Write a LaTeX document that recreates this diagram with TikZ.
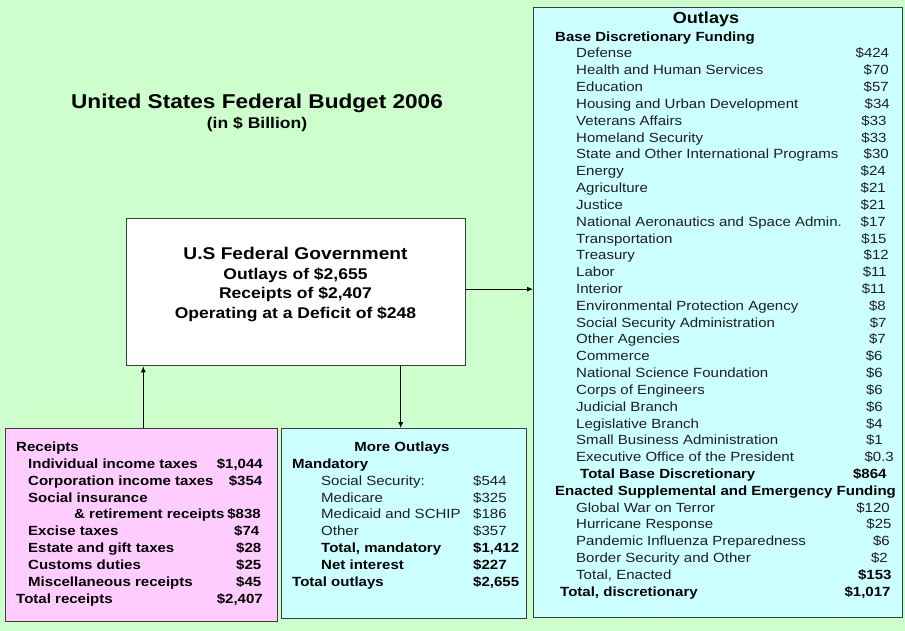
\documentclass[tikz,border=0pt]{standalone}
\usepackage{fontspec}
\setmainfont{Liberation Sans}[FakeStretch=1.13]
\usetikzlibrary{arrows.meta,calc}
\definecolor{bgc}{RGB}{204,255,204}
\definecolor{pinkc}{RGB}{255,204,255}
\definecolor{cyanc}{RGB}{204,255,255}
\definecolor{bordc}{RGB}{60,60,60}
\definecolor{txt}{RGB}{30,30,30}
\begin{document}
\begin{tikzpicture}[x=1pt,y=-1pt,
  box/.style={draw=bordc,line width=1.3pt,rectangle,inner sep=0pt,anchor=north west},
  reg/.style={font=\fontsize{13.3}{15}\selectfont,text=txt,inner sep=0pt},
  bld/.style={font=\fontsize{13.3}{15}\selectfont\bfseries,inner sep=0pt},
  arr/.style={draw=black,line width=0.8pt,-{Latex[length=6pt,width=5pt]}}]
\fill[bgc] (0,0) rectangle (905,631);
\useasboundingbox (0,0) rectangle (905,631);
% title
\node[font=\fontsize{20}{22}\selectfont\bfseries,inner sep=0pt,anchor=base] (title) at (257,109) {United States Federal Budget 2006};
\node[font=\fontsize{15.5}{17}\selectfont\bfseries,inner sep=0pt,anchor=base] (sub) at (257,129) {(in \$ Billion)};
% boxes
\node[box,fill=white,minimum width=339pt,minimum height=147pt] (gov) at (126,218) {};
\node[box,fill=pinkc,minimum width=272pt,minimum height=193pt] (rec) at (5,428) {};
\node[box,fill=cyanc,minimum width=245pt,minimum height=190pt] (more) at (281,428) {};
\node[box,fill=cyanc,minimum width=369pt,minimum height=610pt] (out) at (533,7) {};
% government text
\node[font=\fontsize{17}{19}\selectfont\bfseries,inner sep=0pt,anchor=base] (g1) at (295.5,259) {U.S Federal Government};
\node[font=\fontsize{15.5}{17}\selectfont\bfseries,inner sep=0pt,anchor=base] (g2) at (295.5,279.5) {Outlays of \$2,655};
\node[font=\fontsize{15.5}{17}\selectfont\bfseries,inner sep=0pt,anchor=base] (g3) at (295.5,298.5) {Receipts of \$2,407};
\node[font=\fontsize{15.5}{17}\selectfont\bfseries,inner sep=0pt,anchor=base] (g4) at (295.5,318) {Operating at a Deficit of \$248};
% connectors
\draw[arr] (rec.north west) ++(138.3,0) coordinate (a1) -- (a1 |- gov.south);
\draw[arr] (gov.south west) ++(274.7,0) coordinate (a2) -- (a2 |- more.north);
\draw[arr] (gov.east) ++(0,-3) coordinate (a3) -- (a3 -| out.west);
% receipts
\node[bld,anchor=base west] (r0) at (16,451.5) {Receipts};
\foreach \x/\t/\v/\r [count=\k] in {28/{Individual income taxes}/{1,044}/263,
  28/{Corporation income taxes}/{354}/262.5,
  28/{Social insurance}/{}/262,
  74/{\& retirement receipts}/{838}/261,
  28/{Excise taxes}/{74}/259.5,
  28/{Estate and gift taxes}/{28}/261.5,
  28/{Customs duties}/{25}/261.5,
  28/{Miscellaneous receipts}/{45}/261.5}{
  \node[bld,anchor=base west] (ri\k) at (\x,{451.5+16.85*\k}) {\t};
  \ifx\v\empty\else
  \node[bld,anchor=base east] (rv\k) at (\r,{451.5+16.85*\k}) {\$\v};
  \fi
}
\node[bld,anchor=base west] (rt) at (16,603) {Total receipts};
\node[bld,anchor=base east] (rtv) at (263,603) {\$2,407};
% more outlays
\node[bld,anchor=base] (m0) at (402,451.5) {More Outlays};
\node[bld,anchor=base west] (m1) at (292,468.4) {Mandatory};
\foreach \t/\v [count=\k] in {{Social Security:}/544,Medicare/325,{Medicaid and SCHIP}/186,Other/357}{
  \node[reg,anchor=base west] (mi\k) at (321,{468.4+16.85*\k}) {\t};
  \node[reg,anchor=base west] (mv\k) at (473,{468.4+16.85*\k}) {\$\v};
}
\node[bld,anchor=base west] (mt1) at (321,552.7) {Total, mandatory};
\node[bld,anchor=base west] (mt1v) at (473,552.7) {\$1,412};
\node[bld,anchor=base west] (mt2) at (321,569.6) {Net interest};
\node[bld,anchor=base west] (mt2v) at (473,569.6) {\$227};
\node[bld,anchor=base west] (mt3) at (292,586.4) {Total outlays};
\node[bld,anchor=base west] (mt3v) at (473,586.4) {\$2,655};
% outlays
\node[font=\fontsize{16}{18}\selectfont\bfseries,inner sep=0pt,anchor=base] (o0) at (706,24) {Outlays};
\node[bld,anchor=base west] (o1) at (555,41.2) {Base Discretionary Funding};
\foreach \t/\v/\r [count=\k from 0] in {
  Defense/424/889.3,
  {Health and Human Services}/70/889,
  Education/57/889,
  {Housing and Urban Development}/34/890,
  {Veterans Affairs}/33/886.7,
  {Homeland Security}/33/886.7,
  {State and Other International Programs}/30/889,
  Energy/24/886,
  Agriculture/21/886,
  Justice/21/886,
  {National Aeronautics and Space Admin.}/17/886,
  Transportation/15/886.7,
  Treasury/12/889,
  Labor/11/887,
  Interior/11/886,
  {Environmental Protection Agency}/8/886,
  {Social Security Administration}/7/886.7,
  {Other Agencies}/7/886,
  Commerce/6/882.7,
  {National Science Foundation}/6/883,
  {Corps of Engineers}/6/883,
  {Judicial Branch}/6/883,
  {Legislative Branch}/4/883,
  {Small Business Administration}/1/883,
  {Executive Office of the President}/0.3/894}{
  \node[reg,anchor=base west] (oi\k) at (576,{58+16.82*\k}) {\t};
  \node[reg,anchor=base east] (ov\k) at (\r,{58+16.82*\k}) {\$\v};
}
\node[bld,anchor=base west] (tb) at (580,{58+16.82*25}) {Total Base Discretionary};
\node[bld,anchor=base east] (tbv) at (886.7,{58+16.82*25}) {\$864};
\node[bld,anchor=base west] (en) at (555,{58+16.82*26}) {Enacted Supplemental and Emergency Funding};
\foreach \t/\v/\r [count=\k from 27] in {
  {Global War on Terror}/120/890,
  {Hurricane Response}/25/891.7,
  {Pandemic Influenza Preparedness}/6/890,
  {Border Security and Other}/2/888}{
  \node[reg,anchor=base west] (ei\k) at (576,{58+16.82*\k}) {\t};
  \node[reg,anchor=base east] (ev\k) at (\r,{58+16.82*\k}) {\$\v};
}
\node[reg,anchor=base west] (te) at (576,{58+16.82*31}) {Total, Enacted};
\node[bld,anchor=base east] (tev) at (891.7,{58+16.82*31}) {\$153};
\node[bld,anchor=base west] (td) at (560,{58+16.82*32}) {Total, discretionary};
\node[bld,anchor=base east] (tdv) at (890.7,{58+16.82*32}) {\$1,017};
\end{tikzpicture}
\end{document}
